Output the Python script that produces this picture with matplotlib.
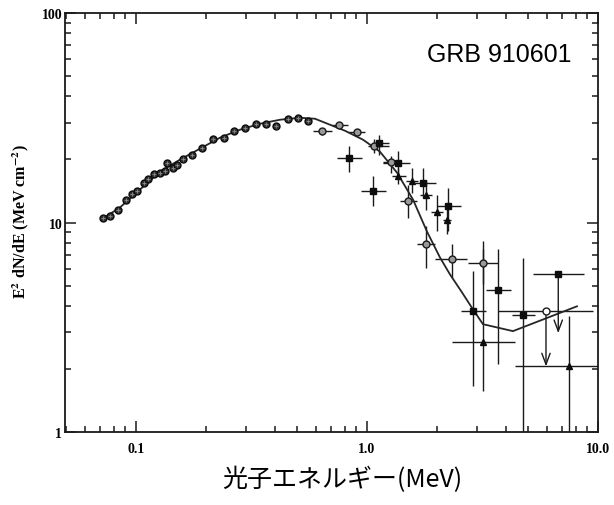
import numpy as np
import matplotlib
matplotlib.use('Agg')
import matplotlib.pyplot as plt
from matplotlib.ticker import FixedLocator, FixedFormatter, LogLocator, NullFormatter

# model curve
curve_E=[0.0720,0.0852,0.1041,0.1270,0.1550,0.1893,0.2310,0.2819,0.3440,0.4200,0.5128,0.5956,
         0.6916,0.8030,0.9609,1.138,1.349,1.582,1.818,2.070,2.288,2.578,2.876,3.178,4.285,8.11]
curve_F=[10.45,11.79,14.36,17.50,19.95,22.51,25.40,27.73,29.61,30.94,31.62,31.28,
         29.29,27.42,24.85,21.78,17.30,12.87,9.06,6.81,5.65,4.64,3.85,3.27,3.03,3.98]

# low energy points (dense)
low_E=[0.0722,0.0772,0.0838,0.0902,0.0958,0.1007,0.1086,0.1130,0.1200,0.1270,0.1335,0.1358,0.1450,
       0.1501,0.1603,0.1742,0.1925,0.2161,0.2411,0.2664,0.2963,0.3297,0.3653,0.4037,0.4535,0.5012,0.5569]
low_F=[10.45,10.72,11.53,12.87,13.74,14.09,15.45,16.15,17.12,17.25,17.55,19.24,18.22,
       18.89,20.11,21.08,22.76,25.12,25.31,27.42,28.25,29.51,29.61,28.74,31.28,31.52,30.61]

# open circles
circ_E=[0.6363,0.7586,0.9024,1.072,1.266,1.510,1.801,2.327,3.187]
circ_F=[27.21,29.29,27.03,23.08,19.46,12.73,7.918,6.715,6.379]
circ_Elo=[0.5856,0.7033,0.8299,1.013,1.176,1.389,1.641,1.970,2.746]
circ_Ehi=[0.7033,0.8299,0.9803,1.249,1.366,1.641,1.970,2.718,3.702]
circ_Flo=[26.3,28.3,26.1,21.5,17.24,10.53,6.084,5.453,5.069]
circ_Fhi=[28.2,30.3,28.0,25.0,20.69,15.16,9.60,7.857,8.147]

# filled squares
sq_E=[0.8383,1.065,1.131,1.366,1.753,2.249,3.702,2.885,4.750]
sq_F=[20.33,14.20,23.96,19.24,15.45,11.96,4.744,3.780,3.606]
sq_Elo=[0.7393,0.9419,1.048,1.176,1.614,2.003,3.265,2.545,4.230]
sq_Ehi=[0.9485,1.208,1.249,1.535,1.990,2.553,4.201,3.275,5.337]
sq_Flo=[17.36,11.96,21.08,16.93,13.11,9.09,2.108,1.661,0.5]
sq_Fhi=[23.08,16.62,26.24,21.86,18.22,14.63,7.437,5.861,6.790]

# small filled points
sm_E=[1.366,1.561,1.801,2.003,2.227,3.187,7.490]
sm_F=[16.74,15.85,13.59,11.19,10.33,2.703,2.068]
sm_Elo=[1.279,1.475,1.696,1.887,2.140,2.327,4.372]
sm_Ehi=[1.475,1.668,1.911,2.127,2.317,4.372,9.97]
sm_Flo=[15.34,13.85,11.53,9.09,8.768,1.573,0.5]
sm_Fhi=[18.28,18.22,16.03,13.59,12.18,7.437,3.580]

# upper limits (circle, square)
ul_E=[5.956,6.731]
ul_F=[3.780,5.695]
ul_Elo=[3.702,5.248]
ul_Ehi=[9.543,8.697]
ul_end=[1.995,2.875]
ul_mark=['o','s']

def xerr(E,lo,hi):
    E=np.array(E);return [E-np.array(lo),np.array(hi)-E]

fig=plt.figure(figsize=(6.14,5.06),dpi=100)
ax=fig.add_axes([0.1059,0.1443,0.868,0.828])
ax.set_xscale('log');ax.set_yscale('log')
ax.set_xlim(0.0493,10);ax.set_ylim(1,100)

ax.plot(curve_E,curve_F,color='0.15',lw=1.3,zorder=3)

ek=dict(fmt='none',ecolor='0.1',elinewidth=1.0,capsize=0,zorder=2)
ax.errorbar(circ_E,circ_F,xerr=xerr(circ_E,circ_Elo,circ_Ehi),yerr=xerr(circ_F,circ_Flo,circ_Fhi),**ek)
ax.errorbar(sq_E,sq_F,xerr=xerr(sq_E,sq_Elo,sq_Ehi),yerr=xerr(sq_F,sq_Flo,sq_Fhi),**ek)
ax.errorbar(sm_E,sm_F,xerr=xerr(sm_E,sm_Elo,sm_Ehi),yerr=xerr(sm_F,sm_Flo,sm_Fhi),**ek)
ax.errorbar(ul_E,ul_F,xerr=xerr(ul_E,ul_Elo,ul_Ehi),**ek)

ax.plot(low_E,low_F,'o',ms=5,mfc='0.2',mec='0.05',mew=1.0,zorder=4)
ax.plot(low_E,low_F,'+',ms=3.5,color='0.55',mew=0.6,zorder=5)
ax.plot(circ_E,circ_F,'o',ms=5,mfc='0.6',mec='0.1',mew=1.0,zorder=4)
ax.plot(sq_E,sq_F,'s',ms=5,color='0.05',zorder=4)
ax.plot(sm_E,sm_F,'^',ms=4,color='0.05',zorder=4)
for e,f,end,m in zip(ul_E,ul_F,ul_end,ul_mark):
    ax.annotate('',xy=(e,end),xytext=(e,f),
                arrowprops=dict(arrowstyle='->,head_length=0.8,head_width=0.3',color='0.1',lw=1.0),zorder=3)
    if m=='o':
        ax.plot(e,f,'o',ms=5,mfc='white',mec='0.1',mew=1.0,zorder=4)
    else:
        ax.plot(e,f,'s',ms=5,color='0.05',zorder=4)

for s in ax.spines.values():
    s.set_linewidth(1.3);s.set_color('0.1')
ax.tick_params(which='both',direction='in',top=True,right=True,color='0.1',width=1.1)
ax.tick_params(which='major',length=8)
ax.tick_params(which='minor',length=4.5)
ax.xaxis.set_major_locator(FixedLocator([0.1,1,10]))
ax.xaxis.set_major_formatter(FixedFormatter(['0.1','1.0','10.0']))
ax.yaxis.set_major_locator(FixedLocator([1,10,100]))
ax.yaxis.set_major_formatter(FixedFormatter(['1','10','100']))
ax.xaxis.set_minor_locator(LogLocator(base=10,subs=np.arange(2,10)))
ax.yaxis.set_minor_locator(LogLocator(base=10,subs=np.arange(2,10)))
ax.xaxis.set_minor_formatter(NullFormatter());ax.yaxis.set_minor_formatter(NullFormatter())
for lab in ax.get_xticklabels()+ax.get_yticklabels():
    lab.set_fontfamily('Liberation Serif');lab.set_fontweight('bold');lab.set_fontsize(10)
ax.tick_params(axis='x',pad=7)
ax.tick_params(axis='y',pad=2)

fig.text(0.034,0.563,r'E$^\mathbf{2}$ dN/dE (MeV cm$^\mathbf{-2}$)',rotation=90,ha='center',va='center',
         family='Liberation Serif',fontweight='bold',fontsize=11.5,math_fontfamily='stix')
fig.text(0.557,0.052,'光子エネルギー(MeV)',ha='center',va='center',
         family=['Noto Sans CJK JP','DejaVu Sans'],fontsize=18)
fig.text(0.930,0.8775,'GRB 910601',ha='right',va='baseline',family='Liberation Sans',fontsize=18)

fig.savefig('out.png',dpi=100)
